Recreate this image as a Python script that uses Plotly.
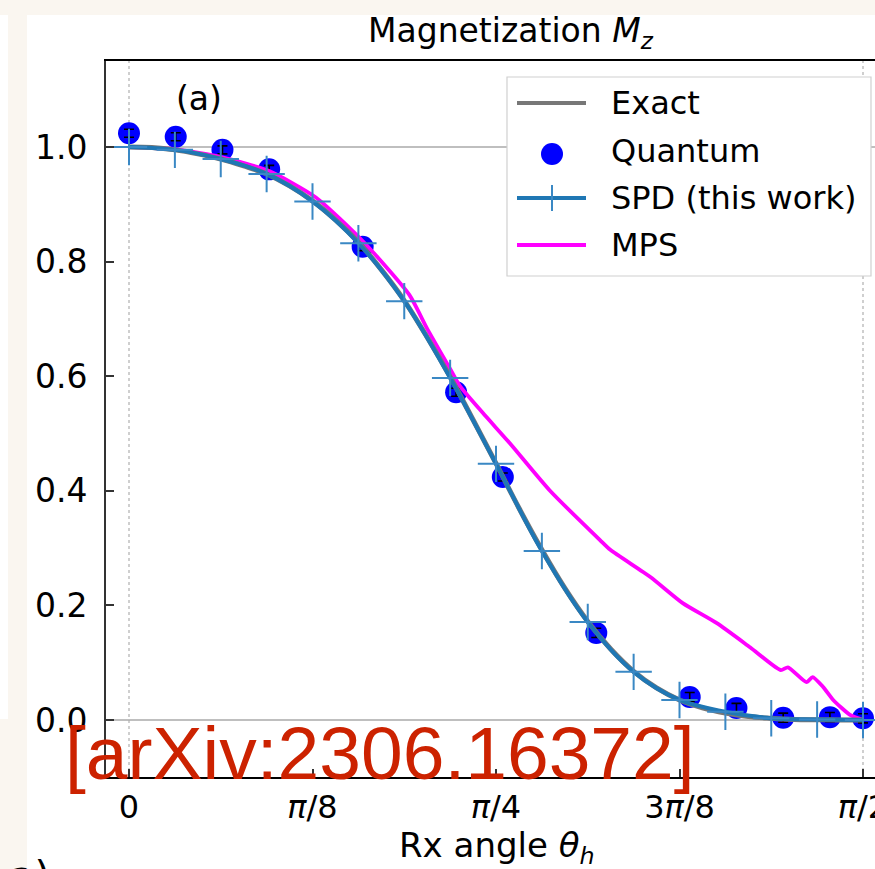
import math
import plotly.graph_objects as go

# ---------------- data ----------------
PI = math.pi
tick_vals = [0, PI / 8, PI / 4, 3 * PI / 8, PI / 2]
tick_text = ["0", "<i>π</i>/8", "<i>π</i>/4", "3<i>π</i>/8", "<i>π</i>/2"]
y_tick_vals = [0.0, 0.2, 0.4, 0.6, 0.8, 1.0]
y_tick_text = ["0.0", "0.2", "0.4", "0.6", "0.8", "1.0"]

# Exact (read at k*pi/64)
exact_theta = [k * PI / 64 for k in range(33)]
exact_vals = [1.000, 0.999, 0.995, 0.988, 0.979, 0.967, 0.953, 0.932, 0.906, 0.873,
              0.834, 0.786, 0.732, 0.668, 0.599, 0.524, 0.448, 0.370, 0.297, 0.230,
              0.172, 0.124, 0.085, 0.056, 0.035, 0.021, 0.012, 0.006, 0.003, 0.001,
              0.0005, 0.0002, 0.0]

# Quantum hardware points
q_theta = [0.0, 0.1, 0.2, 0.3, 0.5, 0.7, 0.8, 1.0, 1.2, 1.3, 1.4, 1.5, PI / 2]
q_vals = [1.024, 1.018, 0.995, 0.961, 0.826, 0.572, 0.424, 0.152, 0.040, 0.021, 0.004, 0.005, 0.003]
q_err = [0.007, 0.007, 0.007, 0.007, 0.007, 0.007, 0.007, 0.008, 0.008, 0.008, 0.008, 0.008, 0.008]

# SPD (this work) at k*pi/32
spd_theta = [k * PI / 32 for k in range(17)]
spd_vals = [1.000, 0.995, 0.979, 0.953, 0.905, 0.832, 0.731, 0.597, 0.447, 0.295,
            0.171, 0.084, 0.035, 0.0145, 0.003, 0.001, 0.0]

# MPS
mps_theta = [0.0, 0.1, 0.2, 0.3, 0.4, 0.5, 0.6, 0.638, 0.687, 0.708, 0.757, 0.815, 0.9,
             1.008, 1.03, 1.115, 1.185, 1.258, 1.329, 1.395, 1.41, 1.45, 1.463, 1.485,
             1.507, 1.543, PI / 2]
mps_vals = [1.000, 0.996, 0.982, 0.958, 0.912, 0.836, 0.742, 0.683, 0.613, 0.583, 0.536,
            0.483, 0.401, 0.314, 0.297, 0.250, 0.204, 0.169, 0.127, 0.087, 0.092, 0.066,
            0.075, 0.058, 0.035, 0.009, 0.0]

ref_h = [0.0, 1.0]          # horizontal reference lines
ref_v = [0.0, PI / 2]       # vertical dotted reference lines

# ---------------- layout helpers ----------------
W, H = 875, 869
L, T, R, B = 106, 61, 875, 777
kx = (863 - 129) / (PI / 2)
ky = (720 - 147) / 1.0
x_range = [(L - 129) / kx, (R - 129) / kx]
y_range = [(720 - B) / ky, (720 - T) / ky]


def px(x):
    return (x - L) / (R - L)


def py(y):
    return (B - y) / (B - T)


FONT = "DejaVu Sans"
BLUE = "#1f77b4"
PLUS = "#3a88c4"
MAG = "#ff00ff"
BEIGE = "#faf6f0"

fig = go.Figure()

fig.add_trace(go.Scatter(x=q_theta, y=q_vals, mode="markers", name="Quantum",
                         marker=dict(color="#0000ff", size=22, line=dict(width=0)),
                         showlegend=False))
fig.add_trace(go.Scatter(x=q_theta, y=q_vals, mode="markers", name="Quantum err",
                         marker=dict(color="rgba(0,0,0,0)", size=1),
                         error_y=dict(type="data", array=q_err, color="black", thickness=1.6, width=5),
                         showlegend=False))
fig.add_trace(go.Scatter(x=mps_theta, y=mps_vals, mode="lines", name="MPS",
                         line=dict(color=MAG, width=3.8, shape="spline", smoothing=0.6),
                         showlegend=False))
fig.add_trace(go.Scatter(x=exact_theta, y=exact_vals, mode="lines", name="Exact",
                         line=dict(color="#777777", width=5, shape="spline"), showlegend=False))
fig.add_trace(go.Scatter(x=spd_theta, y=spd_vals, mode="lines+markers", name="SPD (this work)",
                         line=dict(color=BLUE, width=4, shape="spline"),
                         marker=dict(symbol="cross-thin", size=26,
                                     line=dict(color=PLUS, width=2)),
                         showlegend=False))

shapes = []
# reference lines
for v in ref_h:
    shapes.append(dict(type="line", xref="paper", yref="y", x0=0, x1=1, y0=v, y1=v,
                       line=dict(color="#808080", width=1.2), layer="below"))
for v in ref_v:
    shapes.append(dict(type="line", xref="x", yref="paper", x0=v, x1=v, y0=0, y1=1,
                       line=dict(color="#b0b0b0", width=1.2, dash="dot"), layer="below"))

# beige page background pieces
shapes += [
    dict(type="rect", xref="paper", yref="paper", x0=px(0), x1=px(W), y0=py(0), y1=py(15),
         fillcolor=BEIGE, line=dict(width=0), layer="below"),
    dict(type="rect", xref="paper", yref="paper", x0=px(8), x1=px(27), y0=py(15), y1=py(H),
         fillcolor=BEIGE, line=dict(width=0), layer="below"),
    dict(type="rect", xref="paper", yref="paper", x0=px(0), x1=px(8), y0=py(719), y1=py(H),
         fillcolor=BEIGE, line=dict(width=0), layer="below"),
]

# legend box
shapes.append(dict(type="rect", xref="paper", yref="paper", x0=px(507), x1=px(871),
                   y0=py(276), y1=py(77), fillcolor="white",
                   line=dict(color="#d0d0d0", width=1.2), layer="above"))
leg_y = [103, 151, 198, 245]
shapes.append(dict(type="line", xref="paper", yref="paper", x0=px(517), x1=px(586),
                   y0=py(leg_y[0]), y1=py(leg_y[0]), line=dict(color="#777777", width=4), layer="above"))
shapes.append(dict(type="circle", xref="paper", yref="paper", x0=px(541), x1=px(563),
                   y0=py(leg_y[1] + 14), y1=py(leg_y[1] - 8), fillcolor="#0000ff",
                   line=dict(width=0), layer="above"))
shapes.append(dict(type="line", xref="paper", yref="paper", x0=px(517), x1=px(586),
                   y0=py(leg_y[2]), y1=py(leg_y[2]), line=dict(color=BLUE, width=4), layer="above"))
shapes.append(dict(type="line", xref="paper", yref="paper", x0=px(552), x1=px(552),
                   y0=py(leg_y[2] + 13), y1=py(leg_y[2] - 13), line=dict(color=PLUS, width=2),
                   layer="above"))
shapes.append(dict(type="line", xref="paper", yref="paper", x0=px(517), x1=px(586),
                   y0=py(leg_y[3]), y1=py(leg_y[3]), line=dict(color=MAG, width=3.8), layer="above"))

annotations = []
leg_names = ["Exact", "Quantum", "SPD (this work)", "MPS"]
for name, yy in zip(leg_names, leg_y):
    annotations.append(dict(text=name, xref="paper", yref="paper", x=px(609), y=py(yy),
                            xanchor="left", yanchor="middle", showarrow=False,
                            font=dict(family=FONT, size=32, color="black")))

annotations.append(dict(text="Magnetization <i>M<sub>z</sub></i>", xref="paper", yref="paper",
                        x=px(511), y=py(32), xanchor="center", yanchor="middle", showarrow=False,
                        font=dict(family=FONT, size=33, color="black")))
annotations.append(dict(text="(a)", xref="paper", yref="paper", x=px(199), y=py(98),
                        xanchor="center", yanchor="middle", showarrow=False,
                        font=dict(family=FONT, size=33, color="black")))
annotations.append(dict(text="Rx angle <i>θ<sub>h</sub></i>", xref="paper", yref="paper",
                        x=px(497), y=py(847), xanchor="center", yanchor="middle", showarrow=False,
                        font=dict(family=FONT, size=34, color="black")))
annotations.append(dict(text="a)", xref="paper", yref="paper", x=px(8), y=py(876),
                        xanchor="left", yanchor="middle", showarrow=False,
                        font=dict(family=FONT, size=40, color="black")))
annotations.append(dict(text="[arXiv:2306.16372]", xref="paper", yref="paper", x=px(63), y=py(753),
                        xanchor="left", yanchor="middle", showarrow=False,
                        font=dict(family="Liberation Sans", size=75, color="#cc2200")))

fig.update_layout(
    width=W, height=H,
    margin=dict(l=L, r=W - R, t=T, b=H - B, pad=0, autoexpand=False),
    paper_bgcolor="white", plot_bgcolor="white",
    showlegend=False,
    shapes=shapes, annotations=annotations,
    font=dict(family=FONT, size=33, color="black"),
)
fig.update_xaxes(range=x_range, tickvals=tick_vals, ticktext=tick_text,
                 ticks="inside", ticklen=8, tickwidth=1.5, tickcolor="#333333",
                 showline=True, linecolor="black", linewidth=2.2, mirror=True,
                 showgrid=False, zeroline=False, ticklabeloverflow="allow", automargin=False,
                 tickfont=dict(family=FONT, size=32, color="black"))
fig.update_yaxes(range=y_range, tickvals=y_tick_vals, ticktext=y_tick_text,
                 ticks="inside", ticklen=8, tickwidth=1.5, tickcolor="#333333",
                 showline=True, linecolor="#333333", linewidth=2, mirror=False,
                 showgrid=False, zeroline=False, ticklabelstandoff=10, automargin=False,
                 tickfont=dict(family=FONT, size=33, color="black"))

fig.write_html("out.html")
